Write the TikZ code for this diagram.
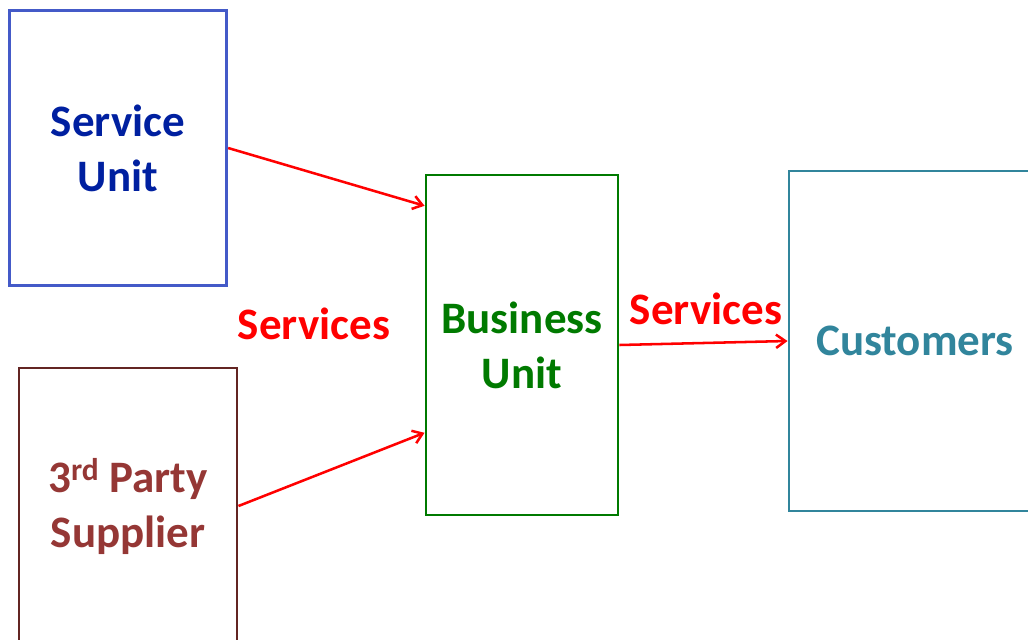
\documentclass[tikz,border=0pt]{standalone}
\usepackage{fontspec}
\setmainfont{Carlito}
\usetikzlibrary{arrows.meta}

\tikzset{every picture/.style={line width=0.75pt}}

\begin{document}
\begin{tikzpicture}[x=0.75pt,y=0.75pt,yscale=-1,xscale=1,
  unitbox/.style={draw, line width=2.2pt, inner sep=0pt, align=center, font=\fontsize{33.75}{41.25}\selectfont\bfseries},
  svcarrow/.style={draw={rgb, 255:red, 255; green, 0; blue, 0 }, line width=1.9pt, -{Straight Barb[length=7pt,width=10pt,line width=1.9pt]}},
  svclabel/.style={anchor=base, inner sep=0pt, text={rgb, 255:red, 255; green, 0; blue, 0 }, font=\fontsize{33.75}{41.25}\selectfont\bfseries}]
%uncomment if require: \path (0,639); %set diagram left start at 0, and has height of 639
\useasboundingbox (0,0) rectangle (1028,639);

%Shape: Rectangle [id:su]
\node [unitbox, draw={rgb, 255:red, 68; green, 90; blue, 200 }, text={rgb, 255:red, 0; green, 32; blue, 160 }, minimum width=163pt, minimum height=206pt] (su) at (118,148) {Service\\Unit};
%Shape: Rectangle [id:tp]
\node [unitbox, draw={rgb, 255:red, 99; green, 37; blue, 35 }, text={rgb, 255:red, 149; green, 55; blue, 53 }, minimum width=163.5pt, minimum height=207pt] (tp) at (128,506) {3\textsuperscript{rd} Party\\Supplier};
%Shape: Rectangle [id:bu]
\node [unitbox, draw={rgb, 255:red, 0; green, 122; blue, 0 }, text={rgb, 255:red, 0; green, 122; blue, 0 }, minimum width=144pt, minimum height=255pt] (bu) at (522,345) {Business\\Unit};
%Shape: Rectangle [id:cu]
\node [unitbox, draw={rgb, 255:red, 49; green, 133; blue, 156 }, text={rgb, 255:red, 49; green, 133; blue, 156 }, minimum width=189pt, minimum height=255pt] (cu) at (915,341) {Customers};

%Straight Lines [id:su-bu]
\draw [svcarrow] (su.east) -- (bu.125.6) ;
%Straight Lines [id:tp-bu]
\draw [svcarrow] (tp.east) -- (bu.222.5) ;
%Straight Lines [id:bu-cu]
\draw [svcarrow] (bu.east) -- (cu.west) ;

% Text Node
\node [svclabel] (lbl1) at (314,339) {Services};
% Text Node
\node [svclabel] (lbl2) at (706,324) {Services};

\end{tikzpicture}
\end{document}
